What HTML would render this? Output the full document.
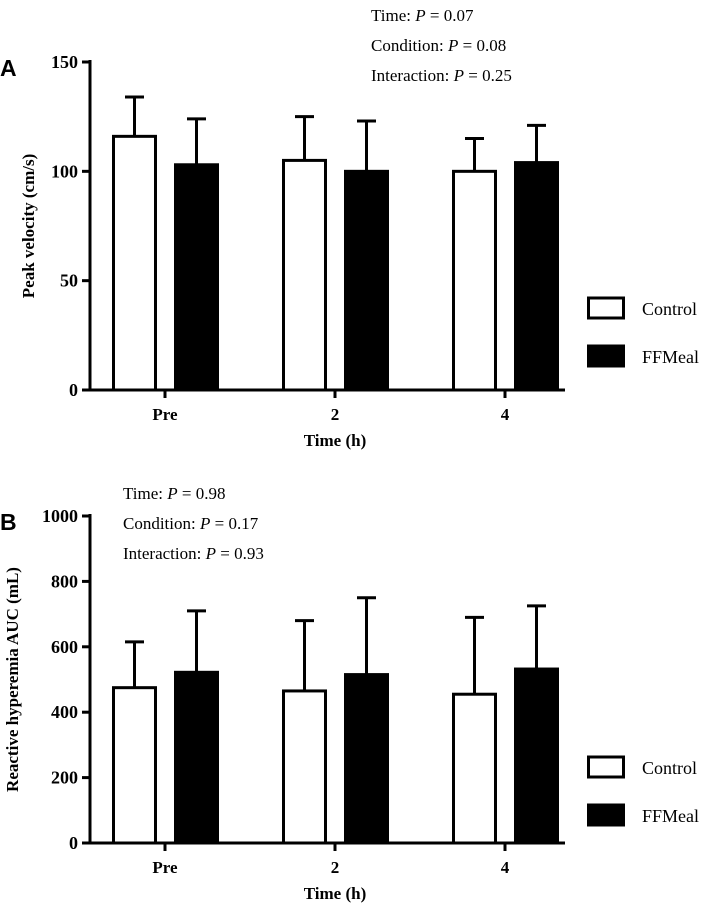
<!DOCTYPE html>
<html><head><meta charset="utf-8"><style>
body{margin:0;background:#fff}
svg text{font-family:"Liberation Serif",serif;fill:#000}
</style></head><body>
<svg id="c" width="709" height="908" xmlns="http://www.w3.org/2000/svg"></svg>
<script>
const categories=["Pre","2","4"];
const aControl=[116,105,100];
const aControlErr=[134,125,115];
const aMeal=[103,100,104];
const aMealErr=[124,123,121];
const bControl=[475,465,455];
const bControlErr=[615,680,690];
const bMeal=[522,515,532];
const bMealErr=[710,750,725];
const aTicks=[0,50,100,150];
const bTicks=[0,200,400,600,800,1000];
const NS="http://www.w3.org/2000/svg";
const svg=document.getElementById('c');
function el(t,a,txt){const e=document.createElementNS(NS,t);for(const k in a)e.setAttribute(k,a[k]);if(txt!==undefined)e.textContent=txt;svg.appendChild(e);return e;}
const groupX=[165,335,505];
function panel(p){
  const y=v=>p.y0-(v/p.max)*(p.y0-p.y1);
  let ax=el('line',{x1:90,y1:p.y1-2,x2:90,y2:p.y0+1.5,stroke:'#000','stroke-width':3});
  
  ax=el('line',{x1:82,y1:p.y0,x2:565,y2:p.y0,stroke:'#000','stroke-width':3});
  
  p.ticks.forEach(t=>{
    el('line',{x1:82,y1:y(t),x2:90,y2:y(t),stroke:'#000','stroke-width':3});
    const tx=el('text',{x:78,y:y(t)+6,'text-anchor':'end','font-size':18,'font-weight':'bold'},t);
    
  });
  categories.forEach((c,i)=>{
    const gx=groupX[i];
    el('line',{x1:gx,y1:p.y0,x2:gx,y2:p.y0+8,stroke:'#000','stroke-width':3});
    const tx=el('text',{x:gx,y:p.y0+30,'text-anchor':'middle','font-size':17,'font-weight':'bold'},c);
    
    [[p.c,p.ce,gx-53,'#fff','control'],[p.m,p.me,gx+9,'#000','ffmeal']].forEach(([vals,errs,x,fill,nm])=>{
      const v=vals[i],e=errs[i];
      const ey=el('line',{x1:x+22.5,y1:y(e),x2:x+22.5,y2:y(v),stroke:'#000','stroke-width':3});
      
      el('line',{x1:x+13,y1:y(e),x2:x+32,y2:y(e),stroke:'#000','stroke-width':3});
      const r=el('rect',{x:x+1.5,y:y(v),width:42,height:y(0)-y(v),fill:fill,stroke:'#000','stroke-width':3});
      
    });
  });
  const yl=el('text',{transform:`translate(${p.ylx},${(p.y0+p.y1)/2}) rotate(-90)`,'text-anchor':'middle','font-size':17,'font-weight':'bold'},p.ylabel);
  
  const xl=el('text',{x:335,y:p.y0+56,'text-anchor':'middle','font-size':17,'font-weight':'bold'},'Time (h)');
  
  const lt=el('text',{x:0,y:p.y1+14,'font-size':23,'font-weight':'bold',style:'font-family:"Liberation Sans",sans-serif'},p.letter);
  
  [['Control','#fff',p.lg],['FFMeal','#000',p.lg+48]].forEach(([n,f,ly])=>{
    const r=el('rect',{x:588.5,y:ly,width:35,height:20,fill:f,stroke:'#000','stroke-width':3});
    
    const t=el('text',{x:642,y:ly+17,'font-size':18},n);
    
  });
  p.stats.forEach((s,k)=>{
    const t=el('text',{x:p.sx,y:p.sy+k*30,'font-size':17});
    
    t.innerHTML=s[0]+': <tspan font-style="italic">P</tspan> = '+s[1];
  });
}
panel({id:'a',y0:390,y1:62,max:150,ticks:aTicks,c:aControl,ce:aControlErr,m:aMeal,me:aMealErr,ylx:34,ylabel:'Peak velocity (cm/s)',letter:'A',lg:298,sx:371,sy:21,stats:[['Time','0.07'],['Condition','0.08'],['Interaction','0.25']]});
panel({id:'b',y0:843,y1:516,max:1000,ticks:bTicks,c:bControl,ce:bControlErr,m:bMeal,me:bMealErr,ylx:18,ylabel:'Reactive hyperemia AUC (mL)',letter:'B',lg:757,sx:123,sy:499,stats:[['Time','0.98'],['Condition','0.17'],['Interaction','0.93']]});
</script>
</body></html>
